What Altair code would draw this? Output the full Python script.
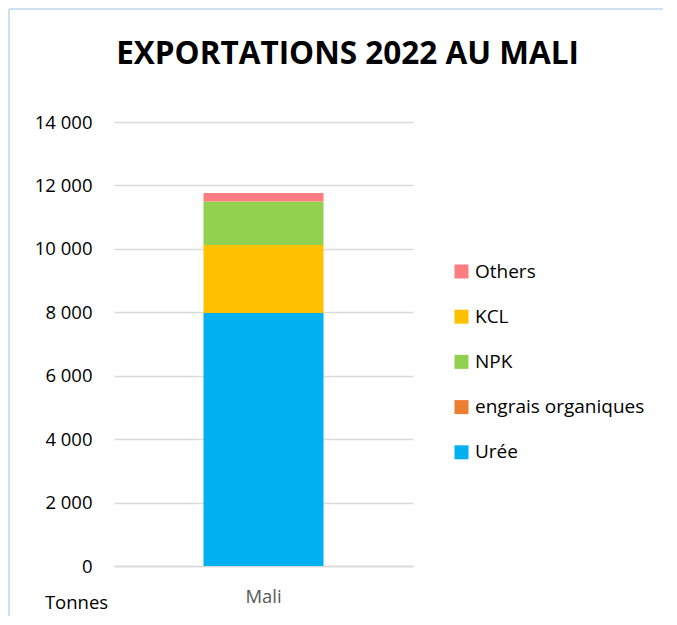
import altair as alt
import pandas as pd

countries = ["Mali"]
series = ["Urée", "engrais organiques", "KCL", "NPK", "Others"]
values = [7980, 0, 2145, 1365, 275]
stack_order = [0, 1, 2, 3, 4]
legend_order = ["Others", "KCL", "NPK", "engrais organiques", "Urée"]
colors = ["#FF7C80", "#FFC000", "#92D050", "#ED7D31", "#00B0F0"]
y_ticks = [0, 2000, 4000, 6000, 8000, 10000, 12000, 14000]

df = pd.DataFrame({
    "pays": countries * len(series),
    "produit": series,
    "tonnes": values,
    "ordre": stack_order,
})

FONT = "Open Sans"
FS = 18.5

bars = alt.Chart(df).mark_bar(size=120).encode(
    x=alt.X("pays:N", title=None,
            axis=alt.Axis(labelAngle=0, labelFontSize=FS, labelColor="#595959",
                          labelFont=FONT, labelPadding=21, ticks=False,
                          domainColor="#d9d9d9", domainWidth=1.5)),
    y=alt.Y("tonnes:Q", stack="zero",
            scale=alt.Scale(domain=[0, 14000], nice=False),
            axis=alt.Axis(values=y_ticks, title="Tonnes", titleAngle=0,
                          titleX=-38, titleY=480, titleAlign="center",
                          titleBaseline="middle", titleFont=FONT,
                          titleFontSize=FS, titleFontWeight="normal",
                          titleColor="black",
                          labelExpr="replace(format(datum.value, ','), ',', ' ')",
                          labelFontSize=FS, labelFont=FONT, labelColor="black",
                          labelPadding=22, ticks=False, domain=False,
                          gridColor="#d9d9d9", gridWidth=1.5)),
    color=alt.Color("produit:N",
                    scale=alt.Scale(domain=legend_order, range=colors),
                    legend=alt.Legend(title=None, orient="none", legendX=338,
                                      legendY=140, symbolType="square",
                                      symbolSize=196, symbolStrokeWidth=0,
                                      labelFontSize=19, labelFont=FONT,
                                      labelColor="black", rowPadding=25.2,
                                      labelOffset=4, labelLimit=400)),
    order=alt.Order("ordre:Q", sort="ascending"),
)

border = alt.Chart(pd.DataFrame({"b": [0]})).mark_rule(
    color="#BDD7EE", strokeWidth=1.5).encode(
    x=alt.value(-105), y=alt.value(-113), y2=alt.value(500))
border_top = alt.Chart(pd.DataFrame({"b": [0]})).mark_rule(
    color="#BDD7EE", strokeWidth=1.5).encode(
    x=alt.value(-105), x2=alt.value(560), y=alt.value(-113))

chart = alt.layer(border, border_top, bars).properties(
    width=299, height=444,
    title=alt.TitleParams("EXPORTATIONS 2022 AU MALI", fontSize=31.5,
                          font=FONT, fontWeight="bold", color="black",
                          anchor="middle", dx=84, offset=-62),
    autosize=alt.AutoSizeParams(type="none"),
    padding={"left": 106, "top": 114, "right": 250, "bottom": 50},
).configure(background="white").configure_view(stroke=None)

chart.save("out.html", embed_options={"renderer": "svg", "actions": False})
